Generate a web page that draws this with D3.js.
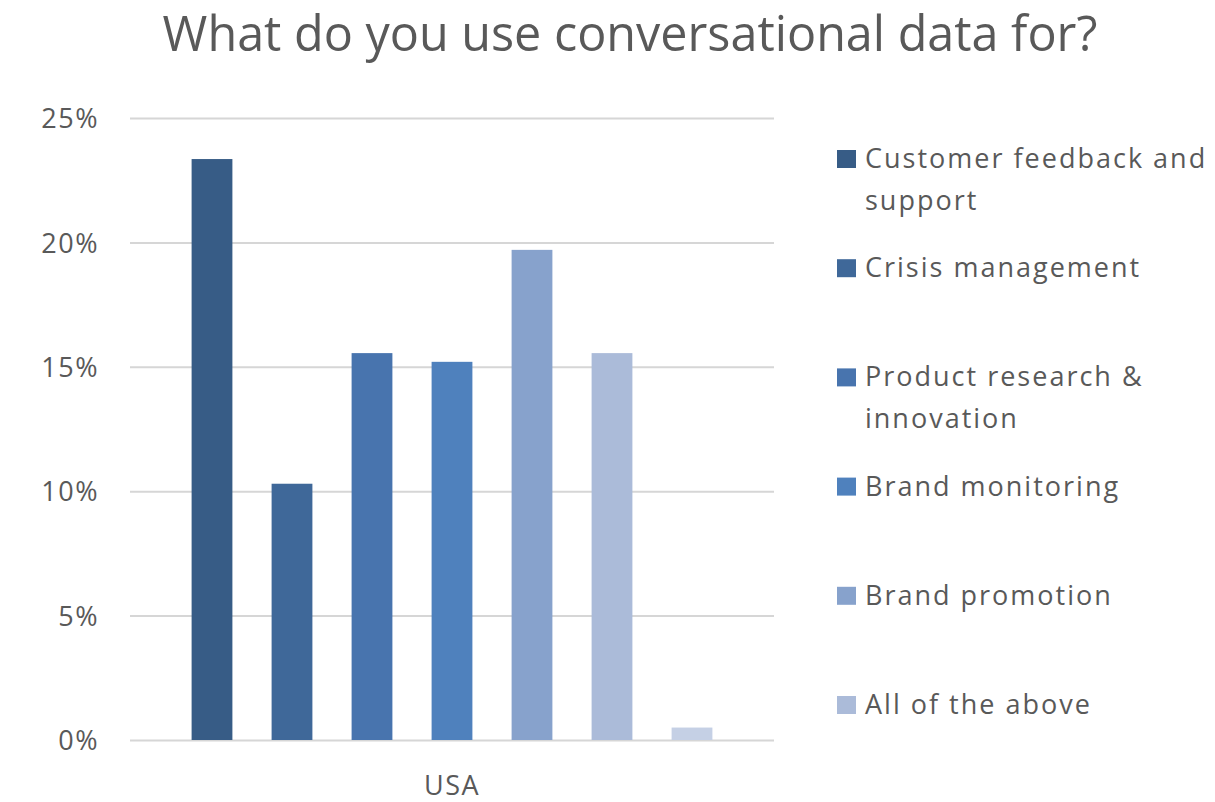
<!DOCTYPE html>
<html>
<head>
<meta charset="utf-8">
<script src="https://cdn.jsdelivr.net/npm/d3@7"></script>
<style>
  html, body { margin: 0; padding: 0; background: #ffffff; }
  svg { display: block; }
  text { font-family: "Open Sans", "Noto Sans", sans-serif; fill: #595959; }
</style>
</head>
<body>
<svg id="chart" width="1215" height="802"></svg>
<script>
// Survey answers, share of respondents (USA)
const groups = ["USA"];
const series = [
  "Customer feedback and support",
  "Crisis management",
  "Product research & innovation",
  "Brand monitoring",
  "Brand promotion",
  "All of the above",
  "Other"
];
const values = [23.35, 10.3, 15.55, 15.2, 19.7, 15.55, 0.5];
const colors = ["#375c86", "#3f6899", "#4874ae", "#4f81bd", "#87a2cc", "#abbbd9", "#c5d0e5"];
const yTicks = [0, 5, 10, 15, 20, 25];
// legend rows (wrapped), only the first six series are listed
const legendLines = [
  ["Customer feedback and", "support"],
  ["Crisis management"],
  ["Product research &", "innovation"],
  ["Brand monitoring"],
  ["Brand promotion"],
  ["All of the above"]
];

const svg = d3.select("#chart");
const plot = { left: 130, right: 774, top: 118, bottom: 740 };

// Title
svg.append("text")
  .attr("x", 630)
  .attr("y", 51)
  .attr("text-anchor", "middle")
  .style("font-size", "48.5px")
  .text("What do you use conversational data for?");

// Scales
const y = d3.scaleLinear().domain([0, 25]).range([plot.bottom, plot.top]);
const x0 = d3.scaleBand().domain(groups).range([plot.left, plot.right]).paddingOuter(0.075).paddingInner(0);
const x1 = d3.scaleBand().domain(series).range([0, x0.bandwidth()]).paddingInner(0.49).paddingOuter(0.245);
const color = d3.scaleOrdinal().domain(series).range(colors);

// Y axis with gridlines
const yAxis = svg.append("g")
  .attr("transform", `translate(${plot.left},0)`)
  .call(d3.axisLeft(y)
    .tickValues(yTicks)
    .tickFormat(d => d + "%")
    .tickSizeInner(-(plot.right - plot.left))
    .tickSizeOuter(0)
    .tickPadding(31));
yAxis.select(".domain").remove();
yAxis.selectAll(".tick line").attr("stroke", "#d6d6d6").attr("stroke-width", 2);
yAxis.selectAll(".tick text")
  .attr("fill", "#595959")
  .style("font-size", "27px")
  .style("letter-spacing", "1.5px")
  .style("font-family", "'Open Sans', sans-serif")
  .attr("dy", "0.36em");

// Bars
const rows = series.map((s, i) => ({ group: groups[0], key: s, value: values[i] }));
svg.append("g")
  .selectAll("rect")
  .data(rows)
  .join("rect")
  .attr("x", d => x0(d.group) + x1(d.key))
  .attr("width", x1.bandwidth())
  .attr("y", d => y(d.value))
  .attr("height", d => y(0) - y(d.value))
  .attr("fill", d => color(d.key));

// X axis label
const xAxis = svg.append("g")
  .attr("transform", `translate(0,${plot.bottom})`)
  .call(d3.axisBottom(x0).tickSize(0).tickPadding(0));
xAxis.select(".domain").remove();
xAxis.selectAll(".tick text")
  .attr("fill", "#595959")
  .attr("y", 55)
  .attr("dy", 0)
  .style("font-size", "27px")
  .style("letter-spacing", "1.5px")
  .style("font-family", "'Open Sans', sans-serif");

// Legend
const legendY = d3.scalePoint().domain(d3.range(legendLines.length)).range([168, 714]);
const legend = svg.append("g")
  .selectAll("g")
  .data(legendLines)
  .join("g")
  .attr("transform", (d, i) => `translate(837,${legendY(i)})`);
legend.append("rect")
  .attr("x", 0)
  .attr("y", -18)
  .attr("width", 19)
  .attr("height", 18)
  .attr("fill", (d, i) => colors[i]);
legend.append("text")
  .style("font-size", "27px")
  .style("letter-spacing", "2px")
  .selectAll("tspan")
  .data(d => d)
  .join("tspan")
  .attr("x", 28)
  .attr("y", (d, j) => j * 42)
  .text(d => d);
</script>
</body>
</html>
